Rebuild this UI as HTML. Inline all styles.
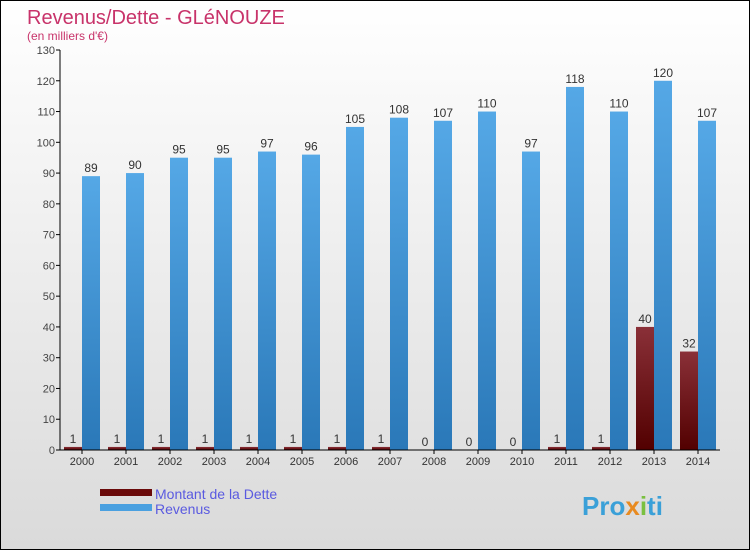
<!DOCTYPE html>
<html><head><meta charset="utf-8"><style>
body{margin:0;}
#c{width:750px;height:550px;position:relative;}
svg text{font-family:"Liberation Sans",sans-serif;}
</style></head><body>
<div id="c">
<svg id="s" width="750" height="550" xmlns="http://www.w3.org/2000/svg">
<defs>
<linearGradient id="bg" x1="0" y1="0" x2="0" y2="1"><stop offset="0" stop-color="#ffffff"/><stop offset="1" stop-color="#dadada"/></linearGradient>
<linearGradient id="gr" x1="0" y1="0" x2="0" y2="1"><stop offset="0" stop-color="#55a8e6"/><stop offset="1" stop-color="#2a78b8"/></linearGradient>
<linearGradient id="gd" x1="0" y1="0" x2="0" y2="1"><stop offset="0" stop-color="#8a3038"/><stop offset="1" stop-color="#520000"/></linearGradient>
</defs>
<rect x="0.5" y="0.5" width="749" height="549" fill="url(#bg)" stroke="#000"/>
<text x="27" y="24" font-size="20" fill="#c8336a">Revenus/Dette - GLéNOUZE</text>
<text x="27" y="40" font-size="12" fill="#c8336a">(en milliers d'€)</text>
<g id="g"></g>
<rect x="100" y="489" width="52" height="7" fill="#6a0a0a"/>
<text x="155" y="499" font-size="14" fill="#5a5ae0">Montant de la Dette</text>
<rect x="100" y="504" width="52" height="7" fill="#4aa0e0"/>
<text x="155" y="514" font-size="14" fill="#5a5ae0">Revenus</text>
<text x="582" y="515" font-size="26" font-weight="bold" fill="#3aa0d8">Pro<tspan fill="#e88a20">x</tspan><tspan fill="#7ac040">i</tspan>ti</text>
</svg></div>
<script>
const years=["2000","2001","2002","2003","2004","2005","2006","2007","2008","2009","2010","2011","2012","2013","2014"];
const debt=[1,1,1,1,1,1,1,1,0,0,0,1,1,40,32];
const revenue=[89,90,95,95,97,96,105,108,107,110,97,118,110,120,107];
const yTicks=[0,10,20,30,40,50,60,70,80,90,100,110,120,130];
const NS="http://www.w3.org/2000/svg";
const g=document.getElementById('g');
const x0=60,y0=450,step=44,maxV=130,ph=400;
const Y=v=>y0-v/maxV*ph;
const X=i=>x0+i*step;
function mk(t,a){const e=document.createElementNS(NS,t);for(const k in a)e.setAttribute(k,a[k]);g.appendChild(e);return e;}
yTicks.forEach(v=>{
 const l=mk('line',{x1:x0-4,x2:x0,y1:Y(v),y2:Y(v),stroke:'#000'});
 
 
 const t=mk('text',{x:x0-5,y:Y(v)+4,'font-size':11,'text-anchor':'end',fill:'#444'});t.textContent=v;
 
 
});
years.forEach((yr,i)=>{
 const d=mk('rect',{x:X(i)+4,y:Y(debt[i]),width:18,height:y0-Y(debt[i]),fill:'url(#gd)'});
 
 
 const r=mk('rect',{x:X(i)+22,y:Y(revenue[i]),width:18,height:y0-Y(revenue[i]),fill:'url(#gr)'});
 
 
 const td=mk('text',{x:X(i)+13,y:Y(debt[i])-4,'font-size':12,'text-anchor':'middle',fill:'#333'});td.textContent=debt[i];
 
 
 const tr=mk('text',{x:X(i)+31,y:Y(revenue[i])-4,'font-size':12,'text-anchor':'middle',fill:'#333'});tr.textContent=revenue[i];
 
 
 const tk=mk('line',{x1:X(i)+22,x2:X(i)+22,y1:y0,y2:y0+4,stroke:'#000'});
 
 
 const tx=mk('text',{x:X(i)+22,y:y0+15,'font-size':11,'text-anchor':'middle',fill:'#333'});tx.textContent=yr;
 
 
});
const ya=mk('line',{x1:x0,x2:x0,y1:Y(maxV),y2:y0,stroke:'#000'});


const xa=mk('line',{x1:x0,x2:x0+years.length*step,y1:y0,y2:y0,stroke:'#000'});


</script>
</body></html>
